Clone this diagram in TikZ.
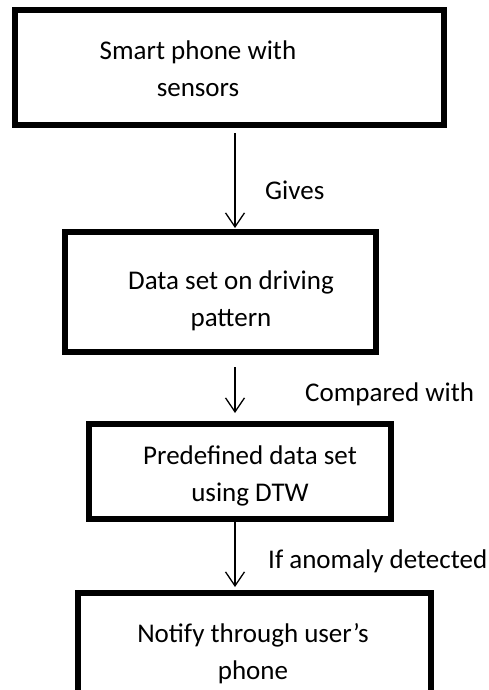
\documentclass[tikz,border=0pt]{standalone}
\usepackage{fontspec}
\setmainfont{Carlito}
\usetikzlibrary{arrows.meta}
\begin{document}
\begin{tikzpicture}[x=1pt,y=-1pt,
  box/.style={draw, line width=6pt, inner sep=0pt},
  txt/.style={anchor=base, inner sep=0pt, font=\fontsize{27}{33}\selectfont},
  lbl/.style={anchor=base west, inner sep=0pt, font=\fontsize{27}{33}\selectfont},
  arr/.style={line width=1.3pt, -{Straight Barb[length=14pt,width=19pt,line width=1.3pt]}}]
\useasboundingbox (0,0) rectangle (488,690);
% boxes
\node[box, minimum width=429pt, minimum height=115pt] (b1) at (229.5,67.5) {};
\node[box, minimum width=311pt, minimum height=120pt] (b2) at (220.5,292) {};
\node[box, minimum width=302pt, minimum height=95pt] (b3) at (240,471.5) {};
\node[box, minimum width=353pt, minimum height=114pt] (b4) at (254.5,650) {};
% box texts
\node[txt] (t1a) at (198,60) {Smart phone with};
\node[txt] (t1b) at (198,97) {sensors};
\node[txt] (t2a) at (231,289) {Data set on driving};
\node[txt] (t2b) at (231,326) {pattern};
\node[txt] (t3a) at (250,464) {Predefined data set};
\node[txt] (t3b) at (250,501) {using DTW};
\node[txt] (t4a) at (253,642) {Notify through user’s};
\node[txt] (t4b) at (253,679) {phone};
% connectors
\coordinate (ax) at (235,0);
\draw[arr, shorten <=5pt, shorten >=1pt] (b1.south -| ax) -- (b2.north -| ax);
\draw[arr, shorten <=12pt, shorten >=8pt] (b2.south -| ax) -- (b3.north -| ax);
\draw[arr, shorten >=3pt] (b3.south -| ax) -- (b4.north -| ax);
% labels
\node[lbl] (l1) at (265,199) {Gives};
\node[lbl] (l2) at (305,401) {Compared with};
\node[lbl] (l3) at (268,568) {If anomaly detected};
\end{tikzpicture}
\end{document}
